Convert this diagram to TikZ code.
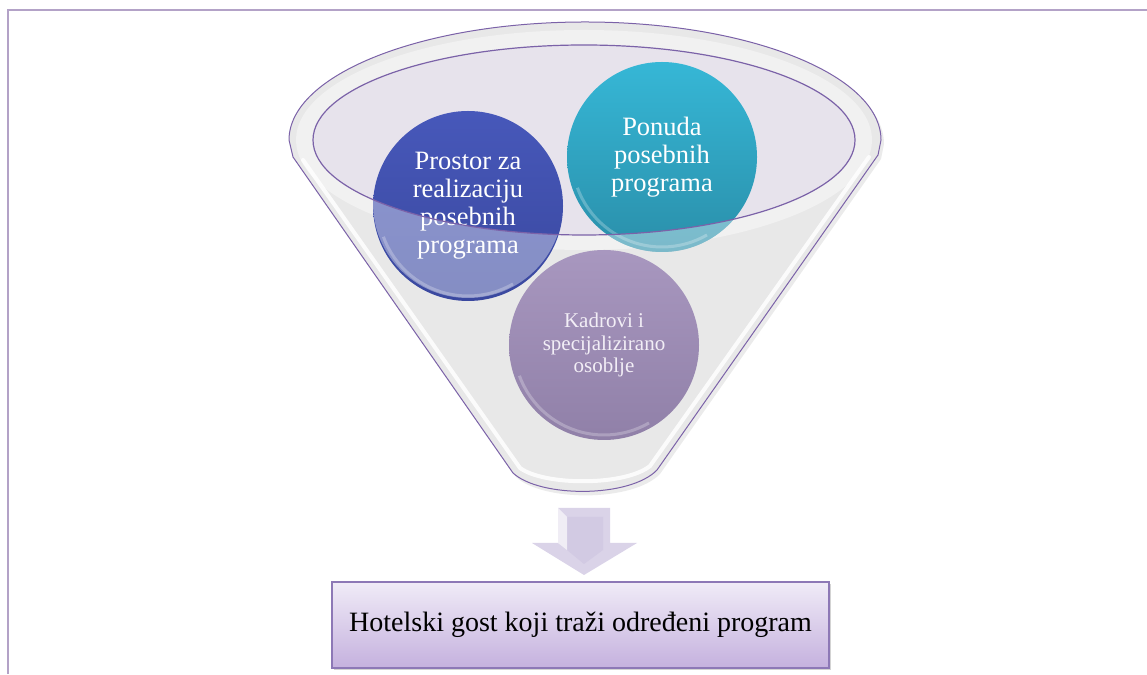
\documentclass[tikz,border=0pt]{standalone}
\usepackage{fontspec}
\setmainfont{Liberation Serif}
\usetikzlibrary{shadows}
\definecolor{framec}{HTML}{B3A2C7}
\definecolor{funnelline}{HTML}{7B62A8}
\definecolor{funnelfill}{HTML}{E8E8E8}
\definecolor{rimfill}{HTML}{F1F1F1}
\definecolor{innerfill}{HTML}{E7E3EC}
\definecolor{blueT}{HTML}{4758BA}
\definecolor{blueB}{HTML}{3A489F}
\definecolor{tealT}{HTML}{36B7D6}
\definecolor{tealB}{HTML}{2A8FAA}
\definecolor{purT}{HTML}{A897BF}
\definecolor{purB}{HTML}{9080A8}
\definecolor{kadtext}{HTML}{F2EEF6}
\definecolor{boxT}{HTML}{F0EBF7}
\definecolor{boxB}{HTML}{C5B1DE}
\definecolor{boxline}{HTML}{8D78B6}
\definecolor{arrowc}{HTML}{DAD3E8}
\definecolor{arrowd}{HTML}{D2CAE3}
\begin{document}
\begin{tikzpicture}[x=1pt,y=1pt,
  frameline/.style={draw=framec,line width=2pt},
  ball/.style={circle,minimum size=190pt,inner sep=0pt,align=center,text=white},
  ballrim/.style={draw=white,line width=3pt,opacity=0.25},
  gbox/.style={rectangle,minimum width=497pt,minimum height=86pt,draw=boxline,line width=1.5pt,
    top color=boxT,bottom color=boxB,drop shadow={opacity=0.35,shadow xshift=2pt,shadow yshift=-2pt},
    font=\fontsize{28}{32}\selectfont}
]
\useasboundingbox (0,0) rectangle (1147,674);
% frame
\draw[frameline] (8,0) -- (8,664) -- (1147,664);

% funnel body
\fill[black,opacity=0.08] (292,530) arc[start angle=180,end angle=0,x radius=296,y radius=118]
  -- (881,515) -- (660,200) .. controls (633,172) and (543,172) .. (516,197) -- (296,513) -- cycle;
\path[fill=funnelfill,draw=funnelline,line width=1pt]
  (289,534) arc[start angle=180,end angle=0,x radius=296,y radius=118]
  -- (878,519) -- (657,204) .. controls (630,176) and (540,176) .. (513,201) -- (293,517) -- cycle;
\fill[rimfill] (584,534) ellipse[x radius=288,y radius=110];
% highlight bands
\draw[white,line width=4pt,opacity=0.85,line cap=round]
  (303,514) -- (520,206) .. controls (545,188) and (625,188) .. (650,208) -- (869,517);
% inner ellipse
\fill[innerfill] (584,534) ellipse[x radius=271,y radius=95];

% circles
\node[ball,top color=blueT,bottom color=blueB,font=\fontsize{26.5}{28}\selectfont] (bl) at (468,468)
  {Prostor za\\realizaciju\\posebnih\\programa};
\node[ball,top color=tealT,bottom color=tealB,font=\fontsize{26.5}{28}\selectfont] (tl) at (662,517)
  {Ponuda\\posebnih\\programa};
\draw[ballrim] ([shift={(200:90)}]bl.center) arc[start angle=200,end angle=300,radius=90];
\draw[ballrim] ([shift={(200:90)}]tl.center) arc[start angle=200,end angle=300,radius=90];

% front wall of funnel over the circles
\begin{scope}
  \clip (468,471) circle[radius=95] (662,517) circle[radius=95];
  \fill[white,opacity=0.38,even odd rule] (200,0) rectangle (1000,674)
    (584,534) ellipse[x radius=271,y radius=95];
\end{scope}
\draw[funnelline,line width=1.2pt] (584,534) ellipse[x radius=271,y radius=95];

% third circle
\node[ball,top color=purT,bottom color=purB,text=kadtext,font=\fontsize{21}{22.5}\selectfont] (kd) at (604,329)
  {Kadrovi i\\specijalizirano\\osoblje};
\draw[ballrim] ([shift={(200:90)}]kd.center) arc[start angle=200,end angle=300,radius=90];

% block arrow
\fill[arrowc] (558,166) -- (610,166) -- (610,131) -- (637,131) -- (584,99) -- (532,131) -- (558,131) -- cycle;
\fill[arrowd] (567,157) -- (603,157) -- (603,124) -- (584,110) -- (567,124) -- cycle;
\fill[white,opacity=0.6] (558,166) -- (567,157) -- (567,124) -- (558,131) -- cycle;

% result box
\node[gbox] (gost) at (580.5,49) {Hotelski gost koji traži određeni program};
\end{tikzpicture}
\end{document}
